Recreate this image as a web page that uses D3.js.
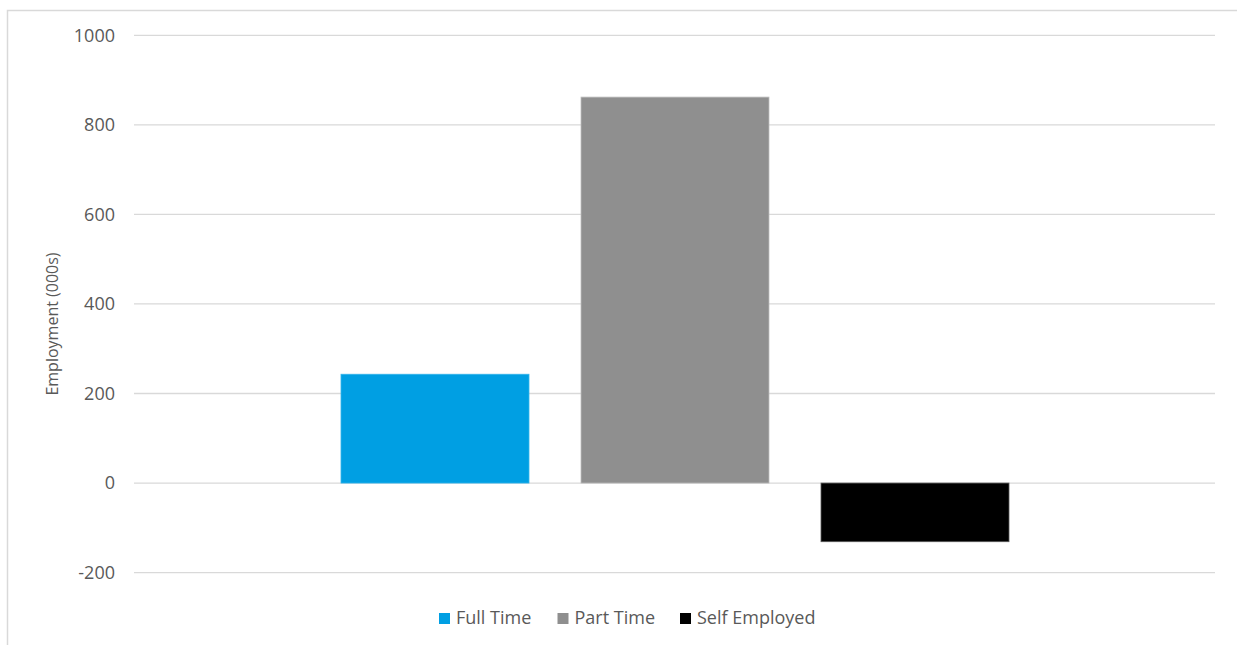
<!DOCTYPE html>
<html>
<head>
<meta charset="utf-8">
<script src="https://cdn.jsdelivr.net/npm/d3@7"></script>
<style>
  html, body { margin: 0; padding: 0; background: #fff; }
  svg { display: block; }
  text { font-family: "Open Sans", "Segoe UI", sans-serif; fill: #595959; }
</style>
</head>
<body>
<svg id="chart" width="1237" height="645"></svg>
<script>
const series = ["Full Time", "Part Time", "Self Employed"];
const values = [243, 862, -131];
const colors = ["#009FE3", "#8F8F8F", "#000000"];
const strokes = ["#33b4ea", "#bdbdbd", "#5a5a5a"];
const yTicks = [-200, 0, 200, 400, 600, 800, 1000];
const yTitle = "Employment (000s)";

const svg = d3.select("#chart");

// outer chart border (cropped at right/bottom)
svg.append("rect")
  .attr("x", 7.5).attr("y", 10.5)
  .attr("width", 1240).attr("height", 660)
  .attr("fill", "#fff").attr("stroke", "#d9d9d9").attr("stroke-width", 1.5);

const plot = { left: 134, right: 1215, top: 35.3, bottom: 572.6 };

const y = d3.scaleLinear().domain([-200, 1000]).range([plot.bottom, plot.top]);
const x = d3.scaleBand().domain(series).range([341, 1009]).paddingInner(0.2167).paddingOuter(0);

// gridlines
svg.append("g").selectAll("line").data(yTicks).join("line")
  .attr("x1", plot.left).attr("x2", plot.right)
  .attr("y1", d => y(d)).attr("y2", d => y(d))
  .attr("stroke", "#d9d9d9").attr("stroke-width", 1.3);

// y axis labels
const yAxis = d3.axisLeft(y).tickValues(yTicks).tickSize(0).tickPadding(0).tickFormat(d => String(d));
const ga = svg.append("g").attr("transform", `translate(115,0)`).call(yAxis);
ga.select(".domain").remove();
ga.selectAll("text")
  .attr("font-size", "18px")
  .attr("font-family", "'Open Sans', sans-serif")
  .attr("fill", "#595959");

// bars
svg.append("g").selectAll("rect").data(series).join("rect")
  .attr("x", d => x(d))
  .attr("width", x.bandwidth())
  .attr("y", (d, i) => y(Math.max(0, values[i])))
  .attr("height", (d, i) => Math.abs(y(values[i]) - y(0)))
  .attr("fill", (d, i) => colors[i])
  .attr("stroke", (d, i) => strokes[i])
  .attr("stroke-width", 0.8);

// y title
svg.append("text")
  .attr("transform", `translate(58,324) rotate(-90)`)
  .attr("text-anchor", "middle")
  .attr("font-size", "16px")
  .text(yTitle);

// legend
const legendX = [439, 557.5, 680];
const lg = svg.append("g").selectAll("g").data(series).join("g")
  .attr("transform", (d, i) => `translate(${legendX[i]},613)`);
lg.append("rect").attr("width", 11).attr("height", 11)
  .attr("fill", (d, i) => colors[i]);
lg.append("text").attr("x", 17).attr("y", 11)
  .attr("font-size", "18px")
  .text(d => d);
</script>
</body>
</html>
